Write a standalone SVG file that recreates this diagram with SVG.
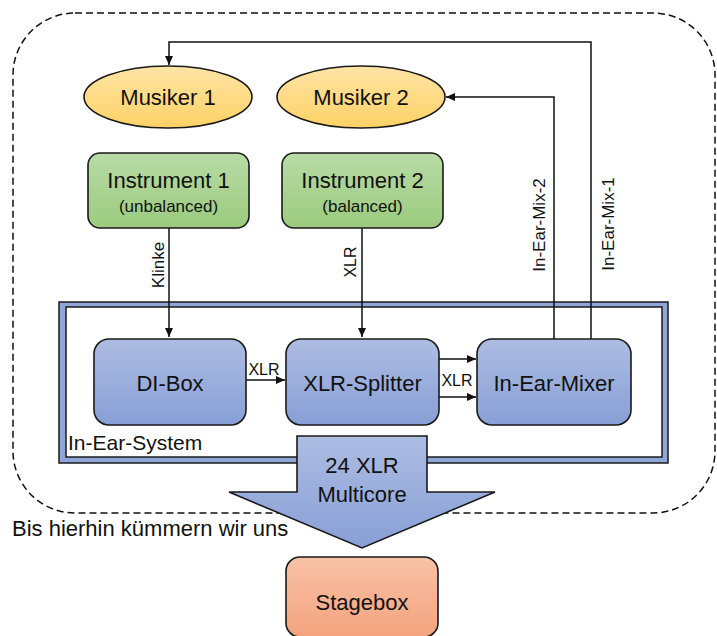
<svg xmlns="http://www.w3.org/2000/svg" width="717" height="636" viewBox="0 0 717 636">
<style>
text{font-family:"Liberation Sans",Arial,sans-serif;fill:#111;}
.n{stroke:#1a1a1a;stroke-width:1.6;}
.c{fill:none;stroke:#111;stroke-width:1.5;}
.t{font-size:22px;text-anchor:middle;dominant-baseline:central;}
.s{font-size:17px;text-anchor:middle;dominant-baseline:central;}
.l{font-size:16px;text-anchor:middle;dominant-baseline:central;}
.m{font-size:17px;text-anchor:middle;dominant-baseline:central;}
</style>
<defs>
<linearGradient id="gy" x1="0" y1="0" x2="0" y2="1"><stop offset="0" stop-color="#FFE4A6"/><stop offset="1" stop-color="#FFD266"/></linearGradient>
<linearGradient id="gg" x1="0" y1="0" x2="0" y2="1"><stop offset="0" stop-color="#B9DBA6"/><stop offset="1" stop-color="#9BCB7E"/></linearGradient>
<linearGradient id="gb" x1="0" y1="0" x2="0" y2="1"><stop offset="0" stop-color="#ADBCE2"/><stop offset="1" stop-color="#889FD6"/></linearGradient>
<linearGradient id="go" x1="0" y1="0" x2="0" y2="1"><stop offset="0" stop-color="#F8C2A6"/><stop offset="1" stop-color="#F4A37E"/></linearGradient>
<marker id="a" markerWidth="10" markerHeight="8" refX="9" refY="4" orient="auto" markerUnits="userSpaceOnUse"><path d="M0,0 L9,4 L0,8 z" fill="#111"/></marker>
</defs>

<g id="scope">
<rect x="13" y="13" width="702" height="500" rx="62" fill="none" stroke="#111" stroke-width="1.5" stroke-dasharray="7 4"/>
</g>

<g id="in-ear-system">
<path d="M59,302 H668 V463 H59 Z M66,307 V457 H662 V307 Z" fill="#8FA6D9" fill-rule="evenodd"/>
<rect x="59" y="302" width="609" height="161" fill="none" stroke="#1a1a1a" stroke-width="1.5"/>
<rect x="66" y="307" width="596" height="150" fill="none" stroke="#1a1a1a" stroke-width="1.5"/>
<text x="68" y="442" style="font-size:21px;dominant-baseline:central">In-Ear-System</text>
</g>

<g id="connectors">
<polyline class="c" points="591,340 591,42 169,42 169,65" marker-end="url(#a)"/>
<polyline class="c" points="554,340 554,97 446,97" marker-end="url(#a)"/>
<line class="c" x1="169" y1="228" x2="169" y2="337" marker-end="url(#a)"/>
<line class="c" x1="362" y1="228" x2="362" y2="337" marker-end="url(#a)"/>
<line class="c" x1="246" y1="380" x2="285" y2="380" marker-end="url(#a)"/>
<line class="c" x1="439" y1="359" x2="476" y2="359" marker-end="url(#a)"/>
<line class="c" x1="439" y1="397" x2="476" y2="397" marker-end="url(#a)"/>
<text class="m" transform="translate(158,265) rotate(-90)">Klinke</text>
<text class="l" transform="translate(350,262) rotate(-90)">XLR</text>
<text class="m" transform="translate(539,225) rotate(-90)">In-Ear-Mix-2</text>
<text class="m" transform="translate(608,224) rotate(-90)">In-Ear-Mix-1</text>
<text class="l" x="264" y="369">XLR</text>
<text class="l" x="457" y="380">XLR</text>
</g>

<g id="musiker1">
<ellipse class="n" cx="168" cy="97" rx="84" ry="31" fill="url(#gy)"/>
<text class="t" x="168" y="97">Musiker 1</text>
</g>
<g id="musiker2">
<ellipse class="n" cx="361" cy="97" rx="84" ry="31" fill="url(#gy)"/>
<text class="t" x="361" y="97">Musiker 2</text>
</g>

<g id="instrument1">
<rect class="n" x="88" y="153" width="161" height="75" rx="12" fill="url(#gg)"/>
<text class="t" x="168.5" y="180">Instrument 1</text>
<text class="s" x="168.5" y="206">(unbalanced)</text>
</g>
<g id="instrument2">
<rect class="n" x="282" y="153" width="161" height="75" rx="12" fill="url(#gg)"/>
<text class="t" x="362.5" y="180">Instrument 2</text>
<text class="s" x="362.5" y="206">(balanced)</text>
</g>

<g id="di-box">
<rect class="n" x="94" y="339" width="152" height="86" rx="15" fill="url(#gb)"/>
<text class="t" x="170" y="383">DI-Box</text>
</g>
<g id="xlr-splitter">
<rect class="n" x="286" y="339" width="153" height="86" rx="15" fill="url(#gb)"/>
<text class="t" x="362.5" y="383">XLR-Splitter</text>
</g>
<g id="in-ear-mixer">
<rect class="n" x="477" y="339" width="154" height="86" rx="15" fill="url(#gb)"/>
<text class="t" x="554" y="383">In-Ear-Mixer</text>
</g>

<g id="multicore">
<path class="n" stroke-width="1.2" d="M297,436 H427 V492 H495 L362,548 L229,492 H297 Z" fill="url(#gb)"/>
<text class="t" x="362" y="465">24 XLR</text>
<text class="t" x="362" y="494">Multicore</text>
</g>

<text x="12" y="528" style="font-size:22px;dominant-baseline:central">Bis hierhin kümmern wir uns</text>

<g id="stagebox">
<rect class="n" x="286" y="557" width="152" height="80" rx="14" fill="url(#go)"/>
<text class="t" x="362" y="602">Stagebox</text>
</g>
</svg>
